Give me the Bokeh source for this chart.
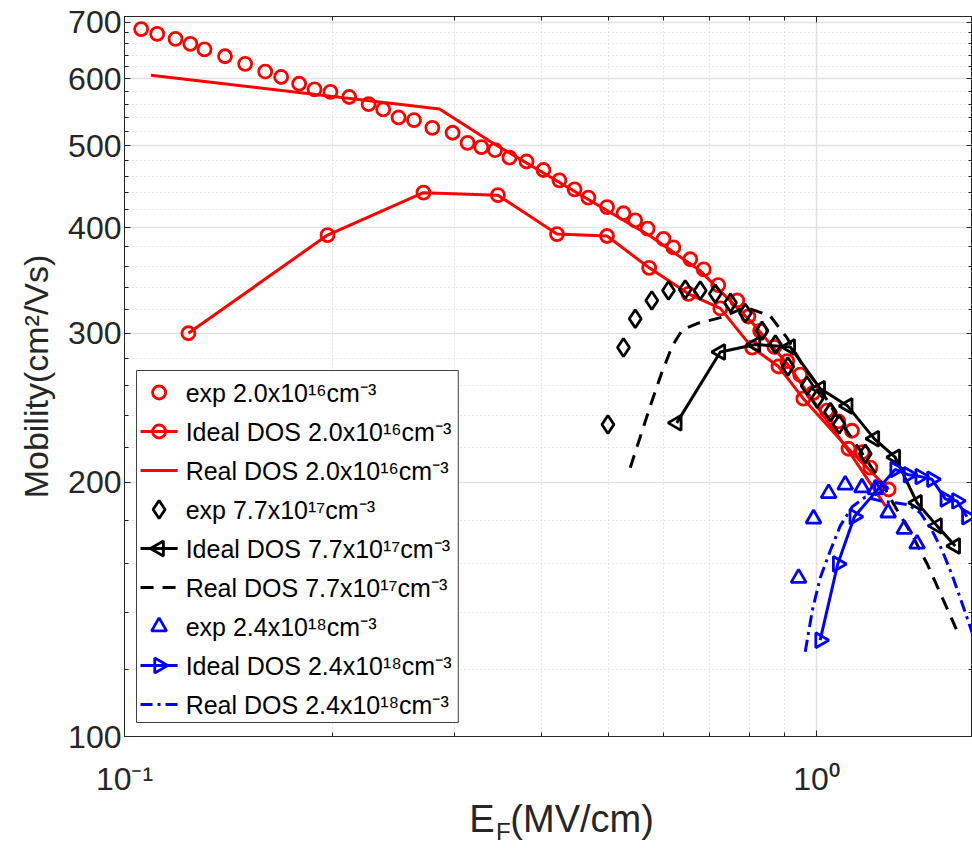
import numpy as np
from bokeh.plotting import figure
from bokeh.models import (Range1d, FixedTicker, LogAxis, LinearScale,
                          CustomJSTickFormatter)
from bokeh.core.properties import value
from bokeh.embed import file_html
from bokeh.resources import INLINE

# ---------------- data (E_F in MV/cm, mobility in cm^2/Vs) ----------------
# n = 2.0e16 cm^-3 (red)
exp1_x = [0.1057, 0.1115, 0.1185, 0.1245, 0.1305, 0.1397, 0.1494, 0.1597, 0.1684, 0.1788,
          0.1882, 0.1984, 0.2112, 0.2253, 0.2365, 0.2489, 0.2620, 0.2785, 0.2979, 0.3131,
          0.3278, 0.3431, 0.360, 0.381, 0.403, 0.425, 0.447, 0.468, 0.498, 0.526,
          0.547, 0.570, 0.601, 0.621, 0.657, 0.687, 0.721, 0.768, 0.797, 0.829,
          0.869, 0.907, 0.947, 0.989, 1.035, 1.075, 1.125, 1.165, 1.196]
exp1_y = [687, 678, 669, 660, 650, 638, 625, 612, 603, 592,
          583, 579, 571, 560, 552, 540, 536, 525, 518, 504,
          498, 494, 484, 479, 468, 455, 444, 434, 423, 416,
          408, 399, 388, 379, 367, 357, 342, 328, 314, 302,
          289, 278, 268, 255, 243, 236, 230, 217, 208]
ideal1_x = [0.1237, 0.1965, 0.2704, 0.3464, 0.4216, 0.498, 0.573, 0.653, 0.726, 0.807,
            0.881, 0.957, 1.112, 1.271]
ideal1_y = [300, 392, 440, 437, 393, 391, 358.5, 334, 321, 288.5,
            274, 251, 219, 196]
real1_x = [0.1092, 0.2852, 0.340, 0.575, 0.679, 0.810, 0.907, 1.012, 1.130, 1.257]
real1_y = [606, 552.5, 504, 391, 355.6, 307.7, 276, 243, 213.6, 187.4]

# n = 7.7e17 cm^-3 (black)
exp2_x = [0.4995, 0.526, 0.547, 0.578, 0.611, 0.646, 0.679, 0.714, 0.751, 0.789,
          0.834, 0.872, 0.909, 0.969, 1.002, 1.047, 1.078, 1.176]
exp2_y = [234, 288.5, 312, 328, 337, 338, 337, 334, 326, 317,
          302, 291, 274, 260, 251, 242, 234, 216]
ideal2_x = [0.628, 0.726, 0.816, 0.916, 1.012, 1.109, 1.212, 1.299, 1.397, 1.493, 1.586]
ideal2_y = [235, 285, 291, 289, 258, 246, 225, 214, 189, 177.5, 168]
real2_x = [0.538, 0.575, 0.597, 0.619, 0.640, 0.672, 0.726, 0.789, 0.857, 0.907,
           0.957, 1.002, 1.082, 1.156, 1.236, 1.304, 1.375, 1.445, 1.519, 1.592]
real2_y = [208, 246, 269, 290, 303, 308, 313, 322, 314.5, 296,
           274, 261, 236, 218, 201, 186, 173, 160, 146, 134]

# n = 2.4e18 cm^-3 (blue)
exp3_x = [0.942, 0.990, 1.041, 1.100, 1.163, 1.216, 1.269, 1.339, 1.397]
exp3_y = [154, 181, 194, 198.5, 197, 196, 184, 176, 169]
ideal3_x = [1.012, 1.073, 1.134, 1.232, 1.299, 1.358, 1.412, 1.468, 1.535, 1.595, 1.649]
ideal3_y = [130, 160, 182, 197, 207, 204, 203, 201.5, 191, 190, 182]
real3_x = [0.963, 0.986, 1.012, 1.047, 1.082, 1.126, 1.176, 1.236, 1.299, 1.357,
           1.412, 1.470, 1.519, 1.571, 1.624, 1.679]
real3_y = [126, 141, 154, 166, 177.5, 187, 192, 190, 189, 188,
           184, 175, 166, 155, 143.5, 132.5]

legend_labels = [
    "exp 2.0x10\u00b9\u2076cm\u207b\u00b3",
    "Ideal DOS 2.0x10\u00b9\u2076cm\u207b\u00b3",
    "Real DOS 2.0x10\u00b9\u2076cm\u207b\u00b3",
    "exp 7.7x10\u00b9\u2077cm\u207b\u00b3",
    "Ideal DOS 7.7x10\u00b9\u2077cm\u207b\u00b3",
    "Real DOS 7.7x10\u00b9\u2077cm\u207b\u00b3",
    "exp 2.4x10\u00b9\u2078cm\u207b\u00b3",
    "Ideal DOS 2.4x10\u00b9\u2078cm\u207b\u00b3",
    "Real DOS 2.4x10\u00b9\u2078cm\u207b\u00b3",
]

x_major = [0.1, 1.0]
x_major_labels = ["10\u207b\u00b9", "10\u2070"]
x_minor = [0.2, 0.3, 0.4, 0.5, 0.6, 0.7, 0.8, 0.9, 2.0]
y_major = [100, 200, 300, 400, 500, 600, 700]
y_minor = [120, 140, 160, 180, 220, 240, 260, 280, 320, 340, 360, 380,
           420, 440, 460, 480, 520, 540, 560, 580, 620, 640, 660, 680]
# x-axis title "E_F(MV/cm)" pieces, anchored along the x axis
xtitle_pos = [0.3284, 0.4584]
xtitle_text = ["E", "(MV/cm)"]
xsub_pos = [0.3528]
xsub_text = ["F"]

FONT = "Liberation Sans"
AX = "#262626"
RED, BLK, BLU = "#ff0000", "#000000", "#0000ff"

p = figure(width=972, height=848, x_axis_type="log", y_axis_type="log",
           x_range=Range1d(0.1, 1.68), y_range=Range1d(100, 711),
           output_backend="svg", toolbar_location=None,
           min_border_left=124, min_border_right=0, min_border_top=16,
           min_border_bottom=112)
p.background_fill_color = "white"
p.border_fill_color = "white"
p.outline_line_color = AX

xt = FixedTicker(ticks=x_major, minor_ticks=x_minor)
yt = FixedTicker(ticks=y_major, minor_ticks=y_minor)
p.xaxis.ticker = xt
p.yaxis.ticker = yt
p.xgrid.ticker = xt
p.ygrid.ticker = yt

for g in (p.xgrid, p.ygrid):
    g.grid_line_color = "#e2e2e2"
    g.grid_line_width = 1.5
    g.minor_grid_line_color = "#cfcfcf"
    g.minor_grid_line_dash = "1 3"
    g.minor_grid_line_width = 1

def style_axis(ax):
    ax.axis_line_color = AX
    ax.axis_line_width = 1
    ax.major_tick_line_color = AX
    ax.minor_tick_line_color = AX
    ax.major_tick_in = 6
    ax.major_tick_out = 0
    ax.minor_tick_in = 4
    ax.minor_tick_out = 0

for ax in list(p.xaxis) + list(p.yaxis):
    style_axis(ax)

p.yaxis.major_label_text_font = FONT
p.yaxis.major_label_text_font_size = "32px"
p.yaxis.major_label_text_color = AX
p.yaxis.major_label_standoff = 3
p.yaxis.axis_label = "Mobility(cm\u00b2/Vs)"
p.yaxis.axis_label_text_font = FONT
p.yaxis.axis_label_text_font_size = "34px"
p.yaxis.axis_label_text_font_style = "normal"
p.yaxis.axis_label_text_color = AX
p.yaxis.axis_label_standoff = 10

# bottom axis: 10^n tick labels
p.xaxis.formatter = CustomJSTickFormatter(args=dict(labels=x_major_labels),
                                          code="return labels[index];")
p.xaxis.major_label_text_font = FONT
p.xaxis.major_label_text_font_size = "32px"
p.xaxis.major_label_text_color = AX
p.xaxis.major_label_standoff = 24

def text_axis(positions, texts, size, standoff):
    ax = LogAxis(ticker=FixedTicker(ticks=positions, minor_ticks=[]),
                 formatter=CustomJSTickFormatter(args=dict(labels=texts),
                                                 code="return labels[index];"),
                 axis_line_color=None, major_tick_line_color=None,
                 minor_tick_line_color=None, major_tick_in=0, major_tick_out=0,
                 minor_tick_in=0, minor_tick_out=0,
                 major_label_text_font=FONT, major_label_text_font_size=size,
                 major_label_text_color=AX, major_label_standoff=standoff)
    return ax

p.add_layout(text_axis(xtitle_pos, xtitle_text, "38px", -2), "below")
p.add_layout(text_axis(xsub_pos, xsub_text, "24px", -25), "below")

top = LogAxis(ticker=xt, major_label_text_font_size="1px", major_label_text_alpha=0,
              major_label_standoff=0)
right = LogAxis(ticker=yt, major_label_text_font_size="1px", major_label_text_alpha=0,
                major_label_standoff=0)
style_axis(top)
style_axis(right)
p.add_layout(top, "above")
p.add_layout(right, "right")

LW = 3
MS = 13
MLW = 2.8
TRI_L, TRI_R = np.pi / 2, -np.pi / 2

# red
p.scatter(exp1_x, exp1_y, marker="circle", size=MS, fill_color=None, line_color=RED, line_width=MLW)
p.line(ideal1_x, ideal1_y, line_color=RED, line_width=LW)
p.scatter(ideal1_x, ideal1_y, marker="circle", size=MS, fill_color=None, line_color=RED, line_width=MLW)
p.line(real1_x, real1_y, line_color=RED, line_width=LW)
# black
p.scatter(exp2_x, exp2_y, marker="diamond", size=18, fill_color=None, line_color=BLK, line_width=MLW)
p.line(ideal2_x, ideal2_y, line_color=BLK, line_width=LW)
p.scatter(ideal2_x, ideal2_y, marker="triangle", angle=TRI_L, size=15, fill_color=None,
          line_color=BLK, line_width=MLW)
p.line(real2_x, real2_y, line_color=BLK, line_width=LW, line_dash="13 9")
# blue
p.scatter(exp3_x, exp3_y, marker="triangle", size=15, fill_color=None, line_color=BLU, line_width=MLW)
p.line(ideal3_x, ideal3_y, line_color=BLU, line_width=LW)
p.scatter(ideal3_x, ideal3_y, marker="triangle", angle=TRI_R, size=15, fill_color=None,
          line_color=BLU, line_width=MLW)
p.line(real3_x, real3_y, line_color=BLU, line_width=LW, line_dash="12 5 3 5")

# ---------------- legend, drawn in frame pixel space (linear extra scales) ----------------
p.extra_x_ranges = {"lx": Range1d(0, 846)}
p.extra_y_ranges = {"ly": Range1d(0, 720)}
p.extra_x_scales = {"lx": LinearScale()}
p.extra_y_scales = {"ly": LinearScale()}
LG = dict(x_range_name="lx", y_range_name="ly")
p.quad(left=[12], right=[333], bottom=[14], top=[366], fill_color="white",
       line_color="#404040", line_width=1, **LG)
rows = [344 - 39 * i for i in range(9)]
gx0, gx1, gxm, tx = 16, 53, 34.5, 61
line_rows = [(1, RED, None), (2, RED, None), (4, BLK, None), (5, BLK, "13 9"),
             (7, BLU, None), (8, BLU, "12 5 3 5")]
for i, col, dash in line_rows:
    kw = dict(line_color=col, line_width=LW)
    if dash:
        kw["line_dash"] = dash
    p.segment(x0=[gx0], y0=[rows[i]], x1=[gx1], y1=[rows[i]], **kw, **LG)
p.scatter([gxm, gxm], [rows[0], rows[1]], marker="circle", size=MS, fill_color=None,
          line_color=RED, line_width=MLW, **LG)
p.scatter([gxm], [rows[3]], marker="diamond", size=18, fill_color=None,
          line_color=BLK, line_width=MLW, **LG)
p.scatter([gxm], [rows[4]], marker="triangle", angle=TRI_L, size=15, fill_color=None,
          line_color=BLK, line_width=MLW, **LG)
p.scatter([gxm], [rows[6]], marker="triangle", size=15, fill_color=None,
          line_color=BLU, line_width=MLW, **LG)
p.scatter([gxm], [rows[7]], marker="triangle", angle=TRI_R, size=15, fill_color=None,
          line_color=BLU, line_width=MLW, **LG)
p.text(x=[tx] * 9, y=rows, text=legend_labels, text_font=value(FONT),
       text_font_size=value("25px"), text_color="#000000", text_align="left",
       text_baseline="middle", **LG)

open("out.html", "w").write(file_html(p, INLINE))
